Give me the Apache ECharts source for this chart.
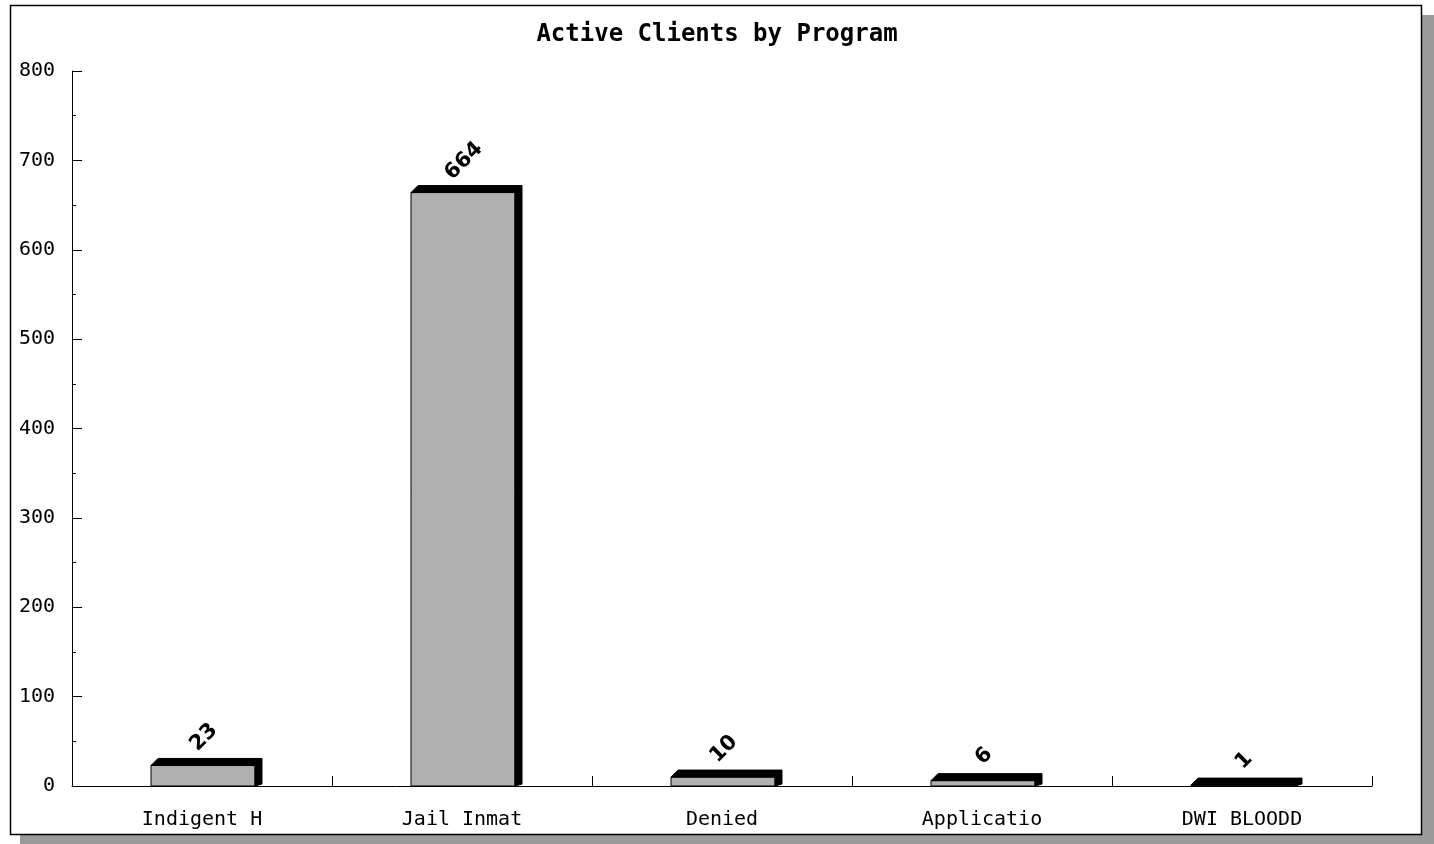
<!DOCTYPE html>
<html>
<head>
<meta charset="utf-8">
<script src="https://cdn.jsdelivr.net/npm/echarts@6/dist/echarts.min.js"></script>
<style>
html,body{margin:0;padding:0;background:#fff;}
#c{width:1434px;height:844px;}
</style>
</head>
<body>
<div id="c"></div>
<script>
var categories = ['Indigent H', 'Jail Inmat', 'Denied', 'Applicatio', 'DWI BLOODD'];
var values = [23, 664, 10, 6, 1];
var yTicks = [0, 100, 200, 300, 400, 500, 600, 700, 800];

var chart = echarts.init(document.getElementById('c'));
var data = values.map(function (v, i) { return [i, v]; });

chart.setOption({
  animation: false,
  backgroundColor: '#fff',
  graphic: [
    { type: 'rect', z: -10, shape: { x: 20, y: 15, width: 1414, height: 829 }, style: { fill: '#9a9a9a' } },
    { type: 'rect', z: -9, shape: { x: 10.5, y: 5.5, width: 1411, height: 829 }, style: { fill: '#fff', stroke: '#000', lineWidth: 1.5 } }
  ],
  title: {
    text: 'Active Clients by Program',
    left: 'center',
    top: 18,
    textStyle: { fontFamily: 'DejaVu Sans Mono', fontWeight: 'bold', fontSize: 24, color: '#000' }
  },
  grid: { left: 72, right: 62, top: 71, bottom: 58, containLabel: false },
  xAxis: {
    type: 'category',
    data: categories,
    boundaryGap: true,
    axisLine: { lineStyle: { color: '#000', width: 1 } },
    axisTick: { show: true, inside: true, length: 10, lineStyle: { color: '#000' } },
    axisLabel: { margin: 24, fontFamily: 'DejaVu Sans Mono', fontSize: 20, color: '#000' },
    splitLine: { show: false }
  },
  yAxis: {
    type: 'value',
    min: 0,
    max: 800,
    interval: 100,
    axisLine: { show: true, lineStyle: { color: '#000', width: 1 } },
    axisTick: { show: true, inside: true, length: 10, lineStyle: { color: '#000' } },
    minorTick: { show: true, splitNumber: 2, length: 4, lineStyle: { color: '#000' } },
    axisLabel: {
      margin: 17, fontFamily: 'DejaVu Sans Mono', fontSize: 20, color: '#000', padding: [4, 0, 0, 0],
      formatter: function (v) { return yTicks.indexOf(v) >= 0 ? String(v) : ''; }
    },
    splitLine: { show: false }
  },
  series: [{
    type: 'custom',
    data: data,
    renderItem: function (params, api) {
      var v = api.value(1);
      var base = api.coord([api.value(0), 0]);
      var top = api.coord([api.value(0), v]);
      var bw = api.size([1, 0])[0] * 0.4;
      var d = 7;
      var x0 = base[0] - bw / 2 + 1, x1 = x0 + bw, yb = base[1], yt = top[1];
      var txt = String(v);
      return {
        type: 'group',
        children: [
          { type: 'rect', shape: { x: x0, y: yt, width: bw, height: yb - yt }, style: { fill: '#b0b0b0', stroke: '#000', lineWidth: 1 } },
          { type: 'polygon', shape: { points: [[x0, yt], [x0 + d, yt - d], [x1 + d, yt - d], [x1 + d, yb - 2], [x1, yb], [x1, yt]] }, style: { fill: '#000', stroke: '#000', lineWidth: 1 } },
          { type: 'text', x: base[0] + 2, y: yt - d - (14 + txt.length * 3.5), rotation: Math.PI / 4,
            style: { text: txt, align: 'center', verticalAlign: 'middle', textAlign: 'center', textVerticalAlign: 'middle',
              font: 'bold 21px "DejaVu Sans"', fill: '#000' } }
        ]
      };
    }
  }]
});
</script>
</body>
</html>
